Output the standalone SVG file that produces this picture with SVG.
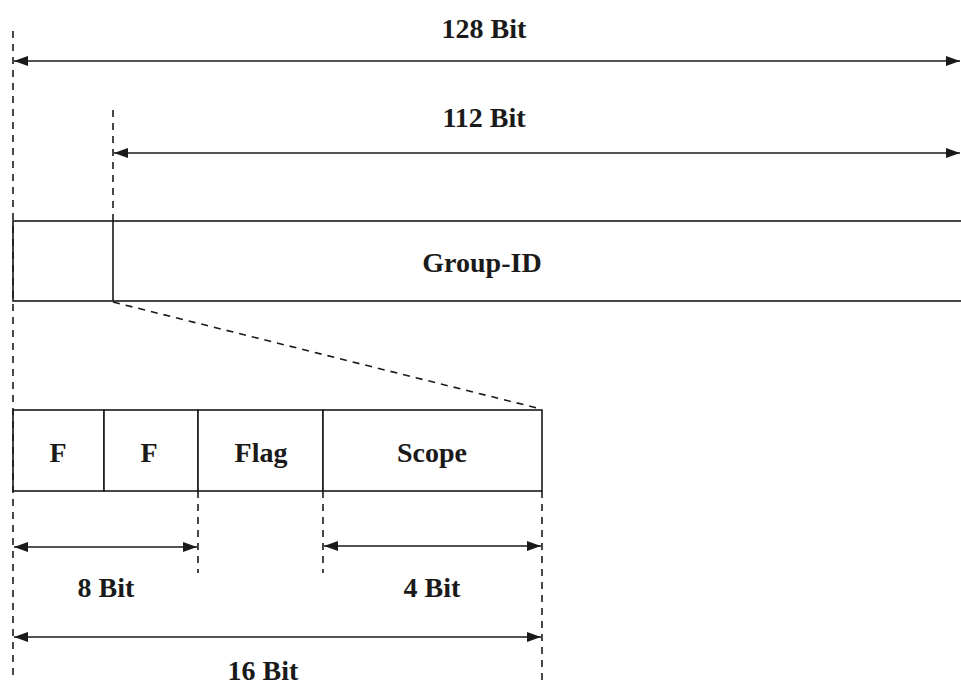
<svg xmlns="http://www.w3.org/2000/svg" width="961" height="689" viewBox="0 0 961 689">
<defs>
<style>
.box{fill:#fff;stroke:#1a1a1a;stroke-width:1.6}
.ln{stroke:#1a1a1a;stroke-width:1.6;fill:none}
.dash{stroke:#1a1a1a;stroke-width:1.6;fill:none;stroke-dasharray:7,6}
.t{font-family:"Liberation Serif","Times New Roman",serif;font-weight:bold;font-size:28px;fill:#1a1a1a;text-anchor:middle}
</style>
<marker id="ah" viewBox="0 0 14 10" refX="14" refY="5" markerWidth="14" markerHeight="10" markerUnits="userSpaceOnUse" orient="auto-start-reverse">
<path d="M0,0 L14,5 L0,10 Z" fill="#1a1a1a"/>
</marker>
</defs>
<rect width="961" height="689" fill="#fff"/>
<g id="group-id">
<rect class="box" x="13" y="221" width="960" height="80"/>
<line class="ln" x1="113" y1="221" x2="113" y2="301"/>
<text class="t" x="482" y="272">Group-ID</text>
</g>
<g id="field-f1">
<rect class="box" x="13" y="410" width="91" height="81"/>
<text class="t" x="58" y="462">F</text>
</g>
<g id="field-f2">
<rect class="box" x="104" y="410" width="94" height="81"/>
<text class="t" x="149" y="462">F</text>
</g>
<g id="field-flag">
<rect class="box" x="198" y="410" width="125" height="81"/>
<text class="t" x="261" y="462">Flag</text>
</g>
<g id="field-scope">
<rect class="box" x="323" y="410" width="219" height="81"/>
<text class="t" x="432" y="462">Scope</text>
</g>
<g id="connectors">
<line class="dash" x1="13" y1="31" x2="13" y2="680"/>
<line class="dash" x1="113" y1="110" x2="113" y2="221"/>
<line class="dash" x1="113" y1="302" x2="541" y2="409"/>
<line class="dash" x1="198" y1="491" x2="198" y2="573"/>
<line class="dash" x1="323" y1="491" x2="323" y2="573"/>
<line class="dash" x1="542" y1="491" x2="542" y2="680"/>
<line class="ln" x1="14" y1="61" x2="960" y2="61" marker-start="url(#ah)" marker-end="url(#ah)"/>
<line class="ln" x1="114" y1="153" x2="960" y2="153" marker-start="url(#ah)" marker-end="url(#ah)"/>
<line class="ln" x1="14" y1="547" x2="197" y2="547" marker-start="url(#ah)" marker-end="url(#ah)"/>
<line class="ln" x1="324" y1="546" x2="541" y2="546" marker-start="url(#ah)" marker-end="url(#ah)"/>
<line class="ln" x1="14" y1="637" x2="541" y2="637" marker-start="url(#ah)" marker-end="url(#ah)"/>
<text class="t" x="484" y="38">128 Bit</text>
<text class="t" x="484" y="127">112 Bit</text>
<text class="t" x="106" y="597">8 Bit</text>
<text class="t" x="432" y="597">4 Bit</text>
<text class="t" x="263" y="680">16 Bit</text>
</g>
</svg>
